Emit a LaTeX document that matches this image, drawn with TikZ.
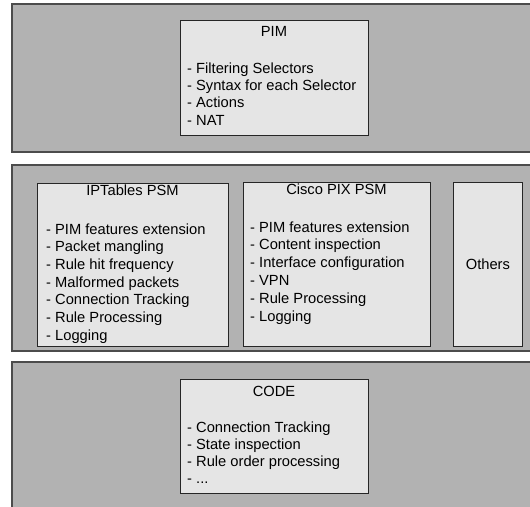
\documentclass[tikz,border=0pt]{standalone}
\usepackage{fontspec}
\setmainfont{Liberation Sans}
\begin{document}
\begin{tikzpicture}[x=1pt,y=-1pt,
  bandfill/.style={fill=black!30},
  bandline/.style={draw=black!70,line width=1.2pt},
  box/.style={draw=black!85,line width=0.8pt,fill=black!10,inner sep=0pt,anchor=north west},
  txt/.style={inner sep=0pt,font=\fontsize{14.7}{17}\selectfont,text=black},
  item/.style={txt,anchor=base west},
  ttl/.style={txt,anchor=base}]
\useasboundingbox (0,0) rectangle (530,506);
\clip (0,0) rectangle (530,506);
\fill[white] (0,0) rectangle (530,506);
% bands
\fill[bandfill] (12,4) rectangle (545,152);
\fill[bandfill] (12,165) rectangle (545,351);
\fill[bandfill] (12,362) rectangle (545,520);
\draw[bandline] (545,4) -- (12,4) -- (12,152) -- (545,152);
\draw[bandline] (545,165) -- (12,165) -- (12,351) -- (545,351);
\draw[bandline] (545,362) -- (12,362) -- (12,520);
% PIM
\node[box,minimum width=188,minimum height=115] (pim) at (180,20) {};
\node[ttl] (pimt) at (274,36) {PIM};
\foreach \t [count=\i] in {- Filtering Selectors,- Syntax for each Selector,- Actions,- NAT}
  \node[item] (pim\i) at (187,{73+17.4*(\i-1)}) {\t};
% IPTables
\node[box,minimum width=191,minimum height=163] (ipt) at (37,183) {};
\node[ttl] (iptt) at (132.5,195) {IPTables PSM};
\foreach \t [count=\i] in {- PIM features extension,- Packet mangling,- Rule hit frequency,- Malformed packets,- Connection Tracking,- Rule Processing,- Logging}
  \node[item] (ipt\i) at (46,{234+17.7*(\i-1)}) {\t};
% Cisco
\node[box,minimum width=187,minimum height=164] (pix) at (243,182) {};
\node[ttl] (pixt) at (336.5,194.5) {Cisco PIX PSM};
\foreach \t [count=\i] in {- PIM features extension,- Content inspection,- Interface configuration,- VPN,- Rule Processing,- Logging}
  \node[item] (pix\i) at (250,{232+17.8*(\i-1)}) {\t};
% Others
\node[box,minimum width=69,minimum height=164] (oth) at (453,182) {};
\node[txt] (otht) at (oth.center) {Others};
% CODE
\node[box,minimum width=188,minimum height=114] (code) at (180,379) {};
\node[ttl] (codet) at (274,396) {CODE};
\foreach \t [count=\i] in {- Connection Tracking,- State inspection,- Rule order processing}
  \node[item] (code\i) at (187,{432+17.3*(\i-1)}) {\t};
\node[item] (code4) at (187,{432+17.3*3}) {- ...};
\end{tikzpicture}
\end{document}
